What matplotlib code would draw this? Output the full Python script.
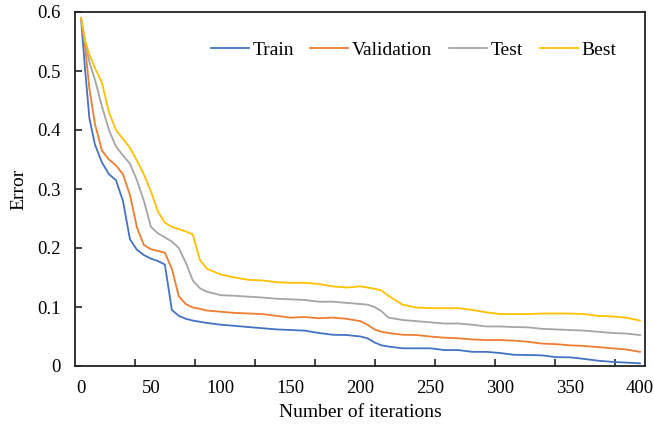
import numpy as np
import matplotlib
matplotlib.use("Agg")
import matplotlib.pyplot as plt
from matplotlib.ticker import FixedLocator, NullFormatter

iterations = [0, 3, 6, 10, 15, 20, 25, 30, 35, 40, 45, 50, 55, 60, 65, 70, 75, 80, 85, 90,
              100, 110, 120, 130, 140, 150, 160, 170, 180, 190, 200, 205, 210, 215, 220,
              230, 240, 250, 260, 270, 280, 290, 300, 310, 320, 330, 340, 350, 360, 370,
              380, 390, 400]

train = [0.59, 0.50, 0.42, 0.375, 0.345, 0.325, 0.315, 0.28, 0.215, 0.197, 0.188, 0.182,
         0.178, 0.172, 0.095, 0.085, 0.080, 0.077, 0.075, 0.073,
         0.070, 0.068, 0.066, 0.064, 0.062, 0.061, 0.060, 0.056, 0.053, 0.0525, 0.050, 0.047,
         0.040, 0.035, 0.033, 0.030, 0.030, 0.030, 0.027, 0.027, 0.024, 0.024, 0.022, 0.019,
         0.0186, 0.018, 0.015, 0.0147, 0.012, 0.009, 0.007, 0.0058, 0.0045]

validation = [0.59, 0.54, 0.47, 0.41, 0.365, 0.35, 0.34, 0.325, 0.29, 0.235, 0.205, 0.198,
              0.195, 0.192, 0.165, 0.118, 0.105, 0.099, 0.097, 0.094,
              0.092, 0.090, 0.089, 0.088, 0.085, 0.082, 0.083, 0.081, 0.082, 0.080, 0.076, 0.070,
              0.062, 0.058, 0.056, 0.053, 0.0525, 0.050, 0.048, 0.047, 0.045, 0.044, 0.044, 0.043,
              0.041, 0.038, 0.037, 0.035, 0.034, 0.032, 0.030, 0.028, 0.024]

test = [0.59, 0.55, 0.515, 0.485, 0.44, 0.40, 0.372, 0.357, 0.343, 0.315, 0.28, 0.236,
        0.225, 0.218, 0.211, 0.20, 0.175, 0.145, 0.132, 0.126,
        0.120, 0.119, 0.1175, 0.116, 0.114, 0.113, 0.112, 0.109, 0.109, 0.107, 0.105, 0.104,
        0.100, 0.093, 0.082, 0.078, 0.076, 0.074, 0.072, 0.072, 0.070, 0.067, 0.067, 0.066,
        0.0655, 0.063, 0.062, 0.061, 0.060, 0.058, 0.056, 0.055, 0.0525]

best = [0.59, 0.55, 0.528, 0.505, 0.48, 0.43, 0.40, 0.385, 0.37, 0.348, 0.325, 0.296,
        0.262, 0.243, 0.236, 0.232, 0.228, 0.223, 0.18, 0.165,
        0.155, 0.150, 0.146, 0.145, 0.142, 0.141, 0.141, 0.139, 0.135, 0.133, 0.135, 0.133,
        0.131, 0.128, 0.119, 0.104, 0.099, 0.098, 0.098, 0.098, 0.095, 0.091, 0.088, 0.088,
        0.088, 0.089, 0.089, 0.089, 0.088, 0.085, 0.084, 0.082, 0.077]

series_names = ["Train", "Validation", "Test", "Best"]
colors = ["#4472C4", "#ED7D31", "#A5A5A5", "#FFC000"]
x_ticks = [0, 50, 100, 150, 200, 250, 300, 350, 400]
y_ticks = [0, 0.1, 0.2, 0.3, 0.4, 0.5, 0.6]

plt.rcParams['font.family'] = ['Liberation Serif', 'DejaVu Serif']

fig = plt.figure(figsize=(6.54, 4.28), dpi=100)
ax = fig.add_axes([75/654, 1-366/428, 570/654, 354/428])

for name, vals, c in zip(series_names, [train, validation, test, best], colors):
    ax.plot(iterations, vals, color=c, lw=1.3, label=name)

x0, x1 = -4.3, 403.6
ax.set_xlim(x0, x1)
ax.set_ylim(0, 0.6)
ax.set_xticks(x_ticks)
ax.set_xticklabels([str(v) for v in x_ticks])
ax.tick_params(axis='x', which='major', length=0, pad=10, labelsize=13.5)
minor_pos = [x0 + k / 9.5 * (x1 - x0) for k in range(1, 10)]
ax.xaxis.set_minor_locator(FixedLocator(minor_pos))
ax.xaxis.set_minor_formatter(NullFormatter())
ax.tick_params(axis='x', which='minor', direction='in', length=5, width=1.2, color='#222222')

ax.set_yticks(y_ticks)
ax.set_yticklabels(["0"] + [f"{v:.1f}" for v in y_ticks[1:]])
ax.tick_params(axis='y', direction='in', length=5, width=1.2, color='#222222',
               labelsize=13.5, pad=10)

for sp in ax.spines.values():
    sp.set_linewidth(1.3)
    sp.set_color('#222222')

ax.set_xlabel("Number of iterations", fontsize=14, labelpad=5)
ax.set_ylabel("Error", fontsize=14, labelpad=7)

ax.legend(loc='center', bbox_to_anchor=(0.594, 0.893), ncol=4, frameon=False,
          fontsize=14, handlelength=1.95, handletextpad=0.2, columnspacing=0.85)

fig.savefig("out.png", dpi=100)
